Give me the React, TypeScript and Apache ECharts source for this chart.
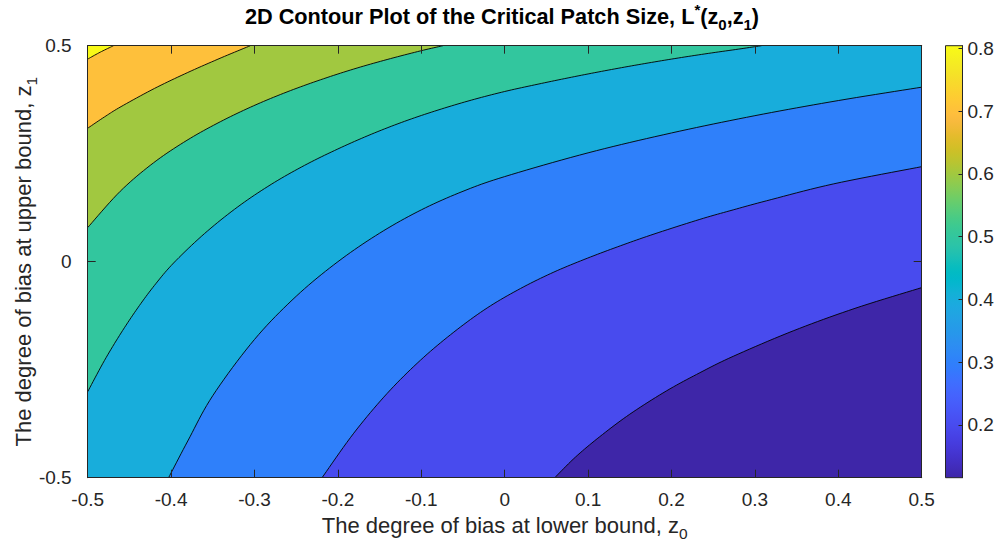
import React, { useEffect, useRef } from "react";
import * as echarts from "echarts";

// Plot extents of z0 (horizontal) and z1 (vertical)
const zMin = -0.5;
const zMax = 0.5;
const xTickStep = 0.1;
const yTickStep = 0.5;

// Colour scale of L*(z0, z1)
const colorMin = 0.116;
const colorMax = 0.804;
const colorbarTicks = [0.2, 0.3, 0.4, 0.5, 0.6, 0.7, 0.8];

// Contour levels; each iso-line is listed as (z0, z1) points running from its
// bottom/left boundary point to its right/top boundary point.
const contourLevels = [0.2, 0.3, 0.4, 0.5, 0.6, 0.7, 0.8];

const isoLine020: [number, number][] = [
  [0.06, -0.5], [0.085, -0.452], [0.114, -0.405], [0.15, -0.353], [0.194, -0.299],
  [0.234, -0.257], [0.274, -0.219], [0.346, -0.16], [0.42, -0.108], [0.5, -0.06],
];
const isoLine030: [number, number][] = [
  [-0.219, -0.5], [-0.181, -0.397], [-0.141, -0.305], [-0.101, -0.228], [-0.061, -0.163],
  [-0.021, -0.107], [0.019, -0.062], [0.059, -0.024], [0.099, 0.008], [0.139, 0.037],
  [0.179, 0.064], [0.234, 0.098], [0.274, 0.12], [0.314, 0.141], [0.394, 0.18], [0.5, 0.22],
];
const isoLine040: [number, number][] = [
  [-0.403, -0.5], [-0.38, -0.415], [-0.35, -0.31], [-0.3, -0.18], [-0.25, -0.08],
  [-0.2, 0.0], [-0.15, 0.066], [-0.1, 0.12], [-0.05, 0.163], [0.0, 0.197],
  [0.1, 0.252], [0.2, 0.298], [0.3, 0.338], [0.4, 0.373], [0.5, 0.404],
];
const isoLine050: [number, number][] = [
  [-0.5, -0.301], [-0.48, -0.229], [-0.46, -0.165], [-0.44, -0.107], [-0.42, -0.055],
  [-0.397, -0.003], [-0.36, 0.065], [-0.32, 0.127], [-0.28, 0.179], [-0.24, 0.223],
  [-0.2, 0.261], [-0.16, 0.295], [-0.12, 0.325], [-0.08, 0.351], [-0.04, 0.374],
  [0.0, 0.394], [0.04, 0.411], [0.08, 0.427], [0.12, 0.442], [0.16, 0.456],
  [0.2, 0.469], [0.24, 0.481], [0.28, 0.492], [0.308, 0.5],
];
const isoLine060: [number, number][] = [
  [-0.5, 0.079], [-0.461, 0.163], [-0.421, 0.229], [-0.381, 0.281], [-0.341, 0.324],
  [-0.301, 0.361], [-0.261, 0.393], [-0.221, 0.421], [-0.181, 0.446], [-0.141, 0.468],
  [-0.101, 0.488], [-0.074, 0.5],
];
const isoLine070: [number, number][] = [
  [-0.5, 0.309], [-0.48, 0.335], [-0.46, 0.359], [-0.42, 0.401], [-0.38, 0.438],
  [-0.34, 0.472], [-0.305, 0.5],
];
const isoLine080: [number, number][] = [
  [-0.5, 0.469], [-0.485, 0.485], [-0.469, 0.5],
];
const isoLines = [isoLine020, isoLine030, isoLine040, isoLine050, isoLine060, isoLine070, isoLine080];

// parula colormap, 64 entries
const parula = [
  "#3e26a8", "#402ab4", "#422ec0", "#4332cb", "#4537d5", "#463cde", "#4741e5", "#4847eb",
  "#484df0", "#4852f4", "#4758f8", "#465efb", "#4563fd", "#4269fe", "#3e6fff", "#3875fe",
  "#327cfc", "#2f81fa", "#2e87f7", "#2d8cf3", "#2b91ef", "#2797eb", "#259be8", "#23a0e5",
  "#20a5e2", "#1ca9e0", "#18addb", "#12b1d6", "#08b5d0", "#01b8ca", "#02bbc3", "#0bbdbd",
  "#19bfb6", "#24c1ae", "#2cc4a7", "#31c69f", "#37c897", "#3fca8e", "#4acb84", "#57cc7a",
  "#64cd6f", "#72cd64", "#81cc59", "#8fcb4e", "#9dc943", "#abc739", "#b9c431", "#c5c22a",
  "#d1bf27", "#dcbd29", "#e6bb2d", "#f0ba36", "#f8ba3d", "#febe3d", "#fec338", "#fec934",
  "#fccf30", "#fad62d", "#f7dc2a", "#f5e327", "#f5e924", "#f5ef20", "#f7f51b", "#f9fb15",
];

const FONT = "'Liberation Sans', Arial, Helvetica, sans-serif";
const INK = "#262626";

function hexToRgb(h: string): number[] {
  return [1, 3, 5].map((i) => parseInt(h.slice(i, i + 2), 16));
}

function colorAt(value: number): string {
  const t = Math.min(1, Math.max(0, (value - colorMin) / (colorMax - colorMin)));
  const f = t * (parula.length - 1);
  const i = Math.min(parula.length - 2, Math.floor(f));
  const u = f - i;
  const a = hexToRgb(parula[i]);
  const b = hexToRgb(parula[i + 1]);
  const c = a.map((v, k) => Math.round(v + (b[k] - v) * u));
  return `rgb(${c[0]},${c[1]},${c[2]})`;
}

// Position of a boundary point along the plot frame, counter-clockwise from the
// bottom-left corner (bottom 0..1, right 1..2, top 2..3, left 3..4).
function framePos(p: number[]): number {
  const eps = 1e-6;
  const span = zMax - zMin;
  if (Math.abs(p[1] - zMin) < eps) return (p[0] - zMin) / span;
  if (Math.abs(p[0] - zMax) < eps) return 1 + (p[1] - zMin) / span;
  if (Math.abs(p[1] - zMax) < eps) return 2 + (zMax - p[0]) / span;
  return 3 + (zMax - p[1]) / span;
}

const frameCorners = [
  [zMax, zMin],
  [zMax, zMax],
  [zMin, zMax],
  [zMin, zMin],
];

// Corners passed when walking the frame counter-clockwise from `from` to `to`.
function cornersBetween(from: number[], to: number[]): number[][] {
  const s0 = framePos(from);
  let s1 = framePos(to);
  if (s1 <= s0) s1 += 4;
  const out: number[][] = [];
  for (let c = Math.ceil(s0); c < s1; c++) {
    if (c === s0) continue;
    out.push(frameCorners[(c - 1 + 4) % 4]);
  }
  return out;
}

// Catmull-Rom resampling of a pixel polyline for smooth curves.
function smoothPath(pts: number[][], steps = 10): number[][] {
  const out: number[][] = [];
  const n = pts.length;
  for (let i = 0; i < n - 1; i++) {
    const p0 = pts[Math.max(i - 1, 0)];
    const p1 = pts[i];
    const p2 = pts[i + 1];
    const p3 = pts[Math.min(i + 2, n - 1)];
    for (let s = 0; s < steps; s++) {
      const t = s / steps;
      const t2 = t * t;
      const t3 = t2 * t;
      out.push([0, 1].map((k) =>
        0.5 * (2 * p1[k] + (-p0[k] + p2[k]) * t + (2 * p0[k] - 5 * p1[k] + 4 * p2[k] - p3[k]) * t2 +
          (-p0[k] + 3 * p1[k] - 3 * p2[k] + p3[k]) * t3)
      ));
    }
  }
  out.push(pts[n - 1]);
  return out;
}

function fmtTick(v: number): string {
  const r = Math.round(v * 10) / 10;
  return r === 0 ? "0" : String(r);
}

export default function App() {
  const ref = useRef<HTMLDivElement>(null);

  useEffect(() => {
    if (!ref.current) return;
    const chart = echarts.init(ref.current, undefined, { renderer: "svg" });

    const bandLevels = [colorMin, ...contourLevels];

    const tickLabel = { color: INK, fontSize: 19, fontFamily: FONT };
    const frameLine = { show: true, onZero: false, lineStyle: { color: INK, width: 1 } };
    const innerTick = { show: true, inside: true, length: 8, lineStyle: { color: INK, width: 1 } };
    const nameRich = {
      n: { fontSize: 22, lineHeight: 26, fontFamily: FONT, color: INK },
      s: { fontSize: 15.5, lineHeight: 15.5, padding: [16, 0, 0, 0], fontFamily: FONT, color: INK },
    };

    const option: any = {
      animation: false,
      backgroundColor: "#ffffff",
      grid: [
        { left: 87.7, top: 45.7, width: 834, height: 432, containLabel: false, outerBoundsMode: "none" },
        { left: 945.5, top: 45.7, width: 17, height: 432, containLabel: false, outerBoundsMode: "none" },
      ],
      xAxis: [
        {
          gridIndex: 0, type: "value", min: zMin, max: zMax, interval: xTickStep, position: "bottom", z: 10,
          axisLine: frameLine, axisTick: innerTick, splitLine: { show: false },
          axisLabel: { ...tickLabel, margin: 12, formatter: fmtTick },
          name: "{n|The degree of bias at lower bound, z}{s|0}",
          nameLocation: "middle", nameGap: 35, nameMoveOverlap: false,
          nameTextStyle: { rich: nameRich },
        },
        {
          gridIndex: 0, type: "value", min: zMin, max: zMax, interval: xTickStep, position: "top", z: 10,
          axisLine: frameLine, axisTick: innerTick, axisLabel: { show: false }, splitLine: { show: false },
        },
        { gridIndex: 1, type: "value", min: 0, max: 1, show: false },
      ],
      yAxis: [
        {
          gridIndex: 0, type: "value", min: zMin, max: zMax, interval: yTickStep, position: "left", z: 10,
          axisLine: frameLine, axisTick: innerTick, splitLine: { show: false },
          axisLabel: { ...tickLabel, margin: 16, formatter: fmtTick },
          name: "{n|The degree of bias at upper bound, z}{s|1}",
          nameLocation: "middle", nameGap: 51, nameRotate: 90, nameMoveOverlap: false,
          nameTextStyle: { rich: nameRich },
        },
        {
          gridIndex: 0, type: "value", min: zMin, max: zMax, interval: yTickStep, position: "right", z: 10,
          axisLine: frameLine, axisTick: innerTick, axisLabel: { show: false }, splitLine: { show: false },
        },
        {
          gridIndex: 1, type: "value", min: colorMin, max: colorMax, position: "right", z: 10,
          axisLine: frameLine, splitLine: { show: false },
          axisTick: { show: true, inside: true, length: 4, lineStyle: { color: INK, width: 1 }, customValues: colorbarTicks },
          axisLabel: { ...tickLabel, margin: 5, customValues: colorbarTicks, formatter: fmtTick },
        },
      ],
      graphic: [
        {
          type: "text", x: 502, y: 3, z: 20,
          style: {
            text: "{b|2D Contour Plot of the Critical Patch Size, L}{p|*}{b|(z}{s|0}{b|,z}{s|1}{b|)}",
            align: "center", verticalAlign: "top",
            rich: {
              b: { fontSize: 21.7, lineHeight: 26, fontWeight: "bold", fontFamily: FONT, fill: "#000" },
              p: { fontSize: 15, lineHeight: 15, padding: [0, 0, 14, 0], fontWeight: "bold", fontFamily: FONT, fill: "#000" },
              s: { fontSize: 15, lineHeight: 15, padding: [16, 0, 0, 0], fontWeight: "bold", fontFamily: FONT, fill: "#000" },
            },
          },
        },
      ],
      series: [
        {
          type: "custom",
          name: "L*",
          xAxisIndex: 0,
          yAxisIndex: 0,
          clip: true,
          silent: true,
          data: bandLevels.map((lvl, i) => [i, lvl]),
          encode: { x: 0, y: 1 },
          renderItem: (params: any, api: any) => {
            const k = params.dataIndex;
            const fill = colorAt(bandLevels[k]);
            if (k === 0) {
              const box = [[zMin, zMin], [zMax, zMin], [zMax, zMax], [zMin, zMax]].map((p) => api.coord(p));
              return { type: "polygon", shape: { points: box }, style: { fill, stroke: null } };
            }
            const line = isoLines[k - 1];
            const curve = smoothPath(line.map((p) => api.coord(p)));
            const corners = cornersBetween(line[line.length - 1], line[0]).map((p) => api.coord(p));
            return {
              type: "group",
              children: [
                { type: "polygon", shape: { points: [...curve, ...corners] }, style: { fill, stroke: null } },
                { type: "polyline", shape: { points: curve }, style: { fill: null, stroke: "#000", lineWidth: 0.9 } },
              ],
            };
          },
        },
        {
          type: "custom",
          name: "colorbar",
          xAxisIndex: 2,
          yAxisIndex: 2,
          silent: true,
          data: [[0, colorMin, 1, colorMax]],
          renderItem: (params: any, api: any) => {
            const p0 = api.coord([api.value(0), api.value(1)]);
            const p1 = api.coord([api.value(2), api.value(3)]);
            const stops = parula.map((c, i) => ({ offset: i / (parula.length - 1), color: c }));
            return {
              type: "rect",
              shape: { x: p0[0], y: p1[1], width: p1[0] - p0[0], height: p0[1] - p1[1] },
              style: {
                fill: new echarts.graphic.LinearGradient(0, 1, 0, 0, stops),
                stroke: INK,
                lineWidth: 1,
              },
            };
          },
        },
      ],
    };

    chart.setOption(option);
    return () => chart.dispose();
  }, []);

  return (
    <div
      ref={ref}
      style={{ position: "fixed", left: 0, top: 0, width: 1003, height: 550, background: "#fff" }}
    />
  );
}
